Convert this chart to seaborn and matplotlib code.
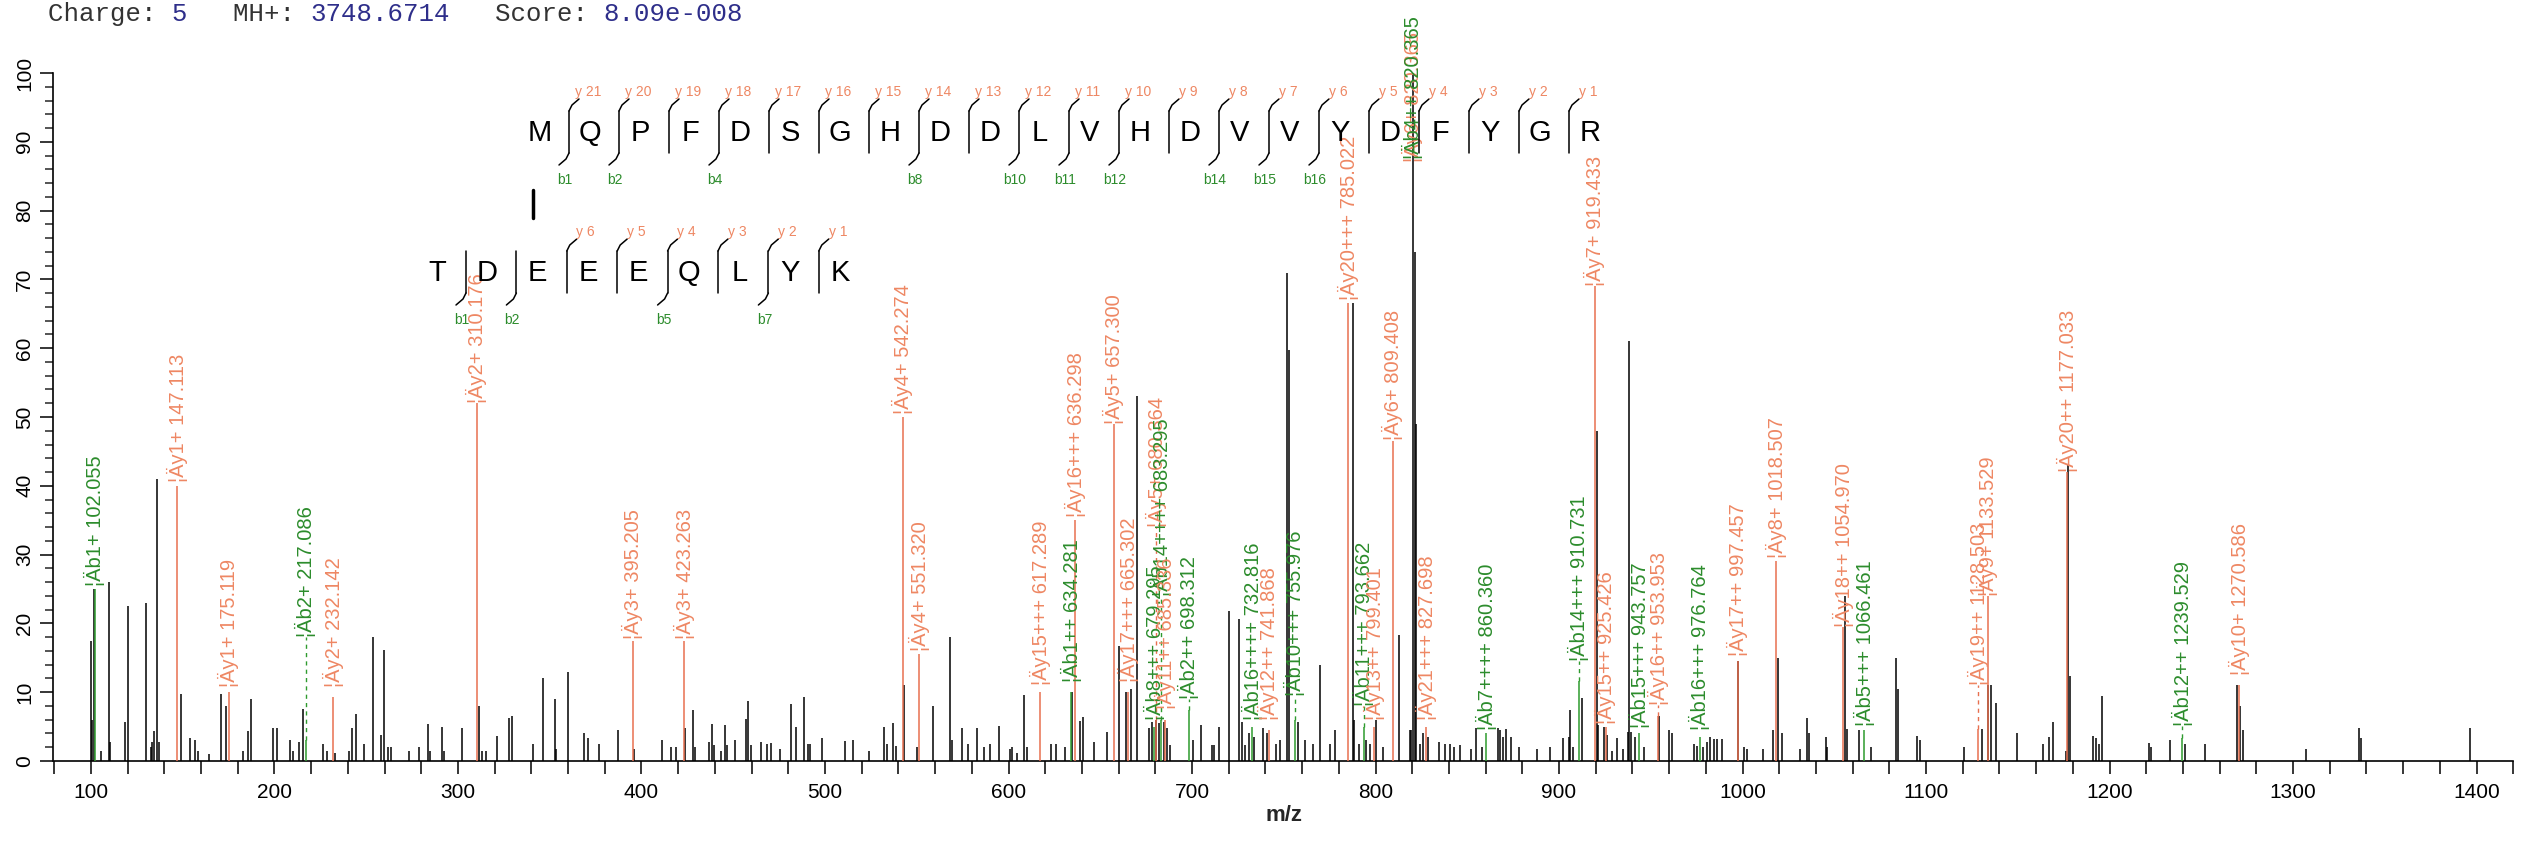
import matplotlib
matplotlib.use("Agg")
import matplotlib.pyplot as plt
import seaborn as sns
import numpy as np
import pandas as pd
from matplotlib.lines import Line2D

# ---------------- data ----------------
black_mz = [100.0, 100.8, 101.4, 105.5, 109.7, 110.5, 118.8, 120.2, 129.9, 132.7, 133.5, 134.6, 136.0, 136.8,
            149.0, 154.0, 156.8, 158.2, 164.5, 170.6, 173.4, 183.1, 185.3, 187.3, 199.2, 201.1, 208.6, 210.0,
            213.6, 215.8, 226.6, 228.8, 233.0, 240.7, 242.1, 244.6, 249.0, 253.7, 257.9, 259.8, 262.0, 263.4,
            273.1, 278.7, 283.7, 285.0, 291.1, 292.5, 302.2, 311.4, 313.3, 315.5, 321.0, 327.7, 329.4, 341.0,
            346.5, 352.6, 353.5, 359.8, 368.7, 370.6, 377.0, 387.3, 395.8, 411.0, 416.3, 418.6, 423.6, 428.3,
            429.1, 436.6, 438.5, 439.3, 443.5, 445.4, 446.8, 451.2, 456.8, 458.2, 459.6, 464.9, 468.4, 470.4,
            475.3, 481.4, 484.3, 488.6, 490.7, 492.0, 498.3, 511.0, 515.5, 524.2, 532.4, 534.0, 537.3, 538.8,
            543.0, 549.9, 558.6, 568.0, 569.0, 574.6, 578.0, 583.0, 586.9, 589.8, 594.8, 600.9, 602.0, 604.4,
            608.7, 610.2, 623.3, 625.7, 630.6, 634.6, 638.8, 640.8, 646.6, 653.9, 660.0, 664.0, 667.0, 670.0,
            676.5, 678.0, 680.5, 682.0, 684.5, 686.5, 688.0, 700.5, 705.0, 710.8, 712.0, 714.6, 720.0, 725.6,
            727.5, 729.0, 731.0, 734.0, 738.5, 741.0, 745.8, 748.0, 752.0, 753.0, 757.5, 761.8, 766.0, 769.5,
            775.0, 777.8, 787.5, 788.5, 791.0, 795.0, 796.8, 800.5, 804.0, 812.6, 818.7, 819.3, 820.4, 821.5,
            822.2, 824.5, 826.0, 828.8, 834.7, 837.6, 840.5, 843.0, 846.0, 852.0, 855.0, 858.0, 866.8, 868.0,
            869.5, 871.2, 873.6, 878.0, 888.0, 895.0, 902.0, 905.4, 906.1, 907.5, 912.3, 920.8, 921.5, 924.5,
            926.4, 928.9, 931.8, 934.7, 937.5, 938.3, 939.4, 941.2, 946.2, 954.5, 960.0, 961.7, 973.3, 975.0,
            978.7, 980.9, 982.3, 984.5, 986.0, 988.9, 997.8, 1001.0, 1002.2, 1011.2, 1016.6, 1019.1, 1021.3,
            1031.1, 1035.4, 1036.5, 1045.5, 1046.2, 1055.6, 1057.0, 1063.5, 1070.0, 1083.4, 1084.5, 1094.9,
            1096.8, 1120.6, 1130.3, 1133.9, 1135.4, 1138.3, 1149.5, 1164.0, 1167.1, 1169.3, 1176.2, 1177.5,
            1178.3, 1191.0, 1192.8, 1194.2, 1196.1, 1221.4, 1222.5, 1233.2, 1241.2, 1252.0, 1269.5, 1271.3,
            1273.0, 1307.2, 1336.0, 1337.2, 1396.4]
black_int = [17.5, 6.0, 25.0, 1.5, 26.0, 2.7, 5.7, 22.5, 23.0, 2.0, 2.7, 4.3, 41.0, 2.7,
             9.7, 3.3, 3.0, 1.5, 1.0, 9.8, 8.0, 1.5, 4.3, 9.0, 4.8, 4.8, 3.0, 1.5,
             2.8, 7.5, 2.5, 1.5, 1.2, 1.5, 4.8, 6.8, 2.5, 18.0, 3.8, 16.2, 2.0, 2.0,
             1.5, 2.0, 5.4, 1.5, 5.0, 1.5, 4.8, 8.0, 1.5, 1.5, 3.6, 6.3, 6.5, 2.5,
             12.0, 9.0, 1.8, 13.0, 4.0, 3.4, 2.4, 4.5, 1.8, 3.0, 2.0, 2.0, 4.8, 7.4,
             2.0, 2.7, 5.4, 2.3, 1.5, 5.2, 2.3, 3.0, 6.1, 8.7, 2.3, 2.8, 2.5, 2.6,
             1.7, 8.3, 5.0, 9.3, 2.5, 2.5, 3.3, 2.9, 3.0, 1.5, 5.0, 2.4, 5.5, 2.2,
             11.0, 2.0, 8.0, 18.0, 3.0, 4.8, 2.5, 4.8, 2.0, 2.5, 5.1, 1.8, 2.0, 1.2,
             9.6, 2.0, 2.5, 2.4, 2.0, 10.0, 5.8, 6.4, 2.8, 4.2, 16.7, 10.0, 10.5, 53.0,
             4.8, 5.7, 6.0, 5.5, 5.7, 4.8, 2.3, 3.0, 5.2, 2.3, 2.3, 5.0, 21.8, 20.7,
             5.7, 2.3, 4.0, 3.5, 4.8, 4.0, 2.5, 3.0, 71.0, 59.7, 5.7, 3.0, 2.4, 14.0,
             2.5, 4.5, 66.5, 6.0, 2.5, 3.0, 2.4, 6.0, 2.0, 18.3, 4.5, 4.5, 100.0, 74.0,
             49.0, 2.5, 4.0, 3.5, 2.7, 2.4, 2.5, 2.0, 2.3, 1.8, 4.8, 2.0, 4.8, 4.5,
             3.5, 4.7, 3.5, 2.0, 1.7, 2.0, 3.3, 3.5, 7.4, 2.0, 9.1, 48.0, 5.3, 5.0,
             3.8, 1.5, 3.4, 1.8, 4.2, 61.0, 4.2, 3.5, 2.0, 6.5, 4.5, 4.0, 2.5, 2.2,
             2.0, 2.8, 3.5, 3.2, 3.2, 3.2, 14.5, 2.0, 1.8, 1.8, 4.5, 15.0, 4.0,
             1.8, 6.2, 4.0, 3.5, 2.0, 24.0, 4.7, 4.5, 2.0, 15.0, 10.5, 3.6,
             3.0, 2.0, 4.7, 11.0, 11.0, 8.4, 4.0, 2.5, 3.5, 5.6, 1.5, 43.0,
             12.3, 3.6, 3.3, 2.5, 9.5, 2.6, 2.0, 3.0, 2.5, 2.4, 11.0, 8.0,
             4.5, 1.8, 4.8, 3.3, 4.8]

ion_mz = [102.055, 147.113, 175.119, 217.086, 232.142, 310.176, 395.205, 423.263, 542.274, 551.320,
          617.289, 634.281, 636.298, 657.300, 665.302, 679.295, 680.364, 683.295, 685.336, 698.312,
          732.816, 741.868, 755.976, 785.022, 793.662, 799.401, 809.408, 820.365, 820.365, 827.698, 860.360,
          910.731, 919.433, 925.426, 943.757, 953.953, 976.764, 997.457, 1018.507, 1054.970, 1066.461,
          1128.503, 1133.529, 1177.033, 1239.529, 1270.586]
ion_peak = [25.0, 40.0, 10.0, 3.0, 9.3, 52.0, 17.5, 17.5, 50.0, 15.5,
            10.0, 10.0, 35.0, 49.0, 10.0, 5.0, 6.0, 6.0, 6.0, 7.4,
            5.0, 4.5, 6.0, 66.5, 5.0, 5.0, 46.5, 0.0, 0.0, 5.0, 4.0,
            11.6, 69.0, 5.0, 4.0, 6.5, 3.5, 14.5, 29.0, 19.5, 4.5,
            4.7, 24.0, 42.0, 3.3, 11.0]
ion_base = [25.5, 40.5, 10.8, 18.0, 10.8, 52.0, 17.8, 17.8, 50.5, 16.0,
            11.0, 11.5, 35.5, 49.0, 11.5, 6.0, 34.0, 24.0, 7.5, 9.0,
            6.0, 6.0, 9.5, 67.0, 8.0, 6.0, 46.6, 87.0, 87.5, 6.0, 4.5,
            14.5, 69.0, 5.4, 4.8, 8.2, 4.5, 15.2, 29.5, 19.5, 5.1,
            11.0, 24.0, 42.0, 5.1, 12.5]
ion_label = ["¦Äb1+ 102.055", "¦Äy1+ 147.113", "¦Äy1+ 175.119", "¦Äb2+ 217.086", "¦Äy2+ 232.142",
             "¦Äy2+ 310.176", "¦Äy3+ 395.205", "¦Äy3+ 423.263", "¦Äy4+ 542.274", "¦Äy4+ 551.320",
             "¦Äy15+++ 617.289", "¦Äb1++ 634.281", "¦Äy16+++ 636.298", "¦Äy5+ 657.300", "¦Äy17+++ 665.302",
             "¦Äb8+++ 679.295", "¦Äy5+ 680.364", "¦Äb14++++ 683.295", "¦Äy11++ 685.336", "¦Äb2++ 698.312",
             "¦Äb16++++ 732.816", "¦Äy12++ 741.868", "¦Äb10+++ 755.976", "¦Äy20+++ 785.022", "¦Äb11+++ 793.662",
             "¦Äy13++ 799.401", "¦Äy6+ 809.408", "¦Äy6+ 820.365", "¦Äb4++ 820.365", "¦Äy21+++ 827.698",
             "¦Äb7++++ 860.360",
             "¦Äb14+++ 910.731", "¦Äy7+ 919.433", "¦Äy15++ 925.426", "¦Äb15+++ 943.757", "¦Äy16++ 953.953",
             "¦Äb16+++ 976.764", "¦Äy17++ 997.457", "¦Äy8+ 1018.507", "¦Äy18++ 1054.970", "¦Äb5+++ 1066.461",
             "¦Äy19++ 1128.503", "¦Äy9+ 1133.529", "¦Äy20++ 1177.033", "¦Äb12++ 1239.529", "¦Äy10+ 1270.586"]
ion_series = ["b", "y", "y", "b", "y", "y", "y", "y", "y", "y",
              "y", "b", "y", "y", "y", "b", "y", "b", "y", "b",
              "b", "y", "b", "y", "b", "y", "y", "y", "b", "y", "b",
              "b", "y", "y", "b", "y", "b", "y", "y", "y", "b",
              "y", "y", "y", "b", "y"]

seq1 = "MQPFDSGHDDLVHDVVYDFYGR"
seq2 = "TDEEEQLYK"
seq1_y_gaps = list(range(21))
seq1_b_gaps = [0, 1, 3, 7, 9, 10, 11, 13, 14, 15]
seq2_y_gaps = [2, 3, 4, 5, 6, 7]
seq2_b_gaps = [0, 1, 4, 6]

header_keys = ["Charge: ", "MH+: ", "Score: "]
header_vals = ["5", "3748.6714", "8.09e-008"]

x_ticks = list(range(80, 1421, 20))
y_ticks = list(range(0, 101, 10))
y_minor = list(range(0, 101, 2))

# ---------------- style ----------------
sns.set_theme(style="ticks")
plt.rcParams["font.family"] = ["Liberation Sans", "DejaVu Sans"]

Y_LINE, Y_TEXT = "#E8704F", "#EE8763"
B_LINE, B_TEXT = "#2E9B2E", "#2C8C2C"
NAVY = "#2E2E8A"

W, H = 2538, 846
fig = plt.figure(figsize=(W / 100, H / 100), dpi=100)
fig.patch.set_facecolor("white")


def fx(p):
    return p / W


def fy(p):
    return 1 - p / H


ax_l, ax_t, ax_b = 53, 73, 761
ax = fig.add_axes([fx(ax_l), fy(ax_b), 1 - fx(ax_l), (ax_b - ax_t) / H])
ax.set_facecolor("white")
ax.set_xlim(79.3, 1433.5)
ax.set_ylim(0, 100)

peaks = pd.DataFrame({"mz": black_mz, "intensity": black_int})
ions = pd.DataFrame({"mz": ion_mz, "peak": ion_peak, "base": ion_base,
                     "label": ion_label, "series": ion_series})

ax.vlines(peaks["mz"], 0, peaks["intensity"], color="black", lw=1.1, zorder=2)

for _, r in ions.iterrows():
    lc = Y_LINE if r.series == "y" else B_LINE
    tc = Y_TEXT if r.series == "y" else B_TEXT
    if r.peak > 0:
        ax.vlines(r.mz, 0, r.peak, color=lc, lw=1.1, zorder=3)
        if r.base > r.peak + 1.5:
            ax.vlines(r.mz, r.peak, r.base, color=lc, lw=1.0, linestyles=(0, (3, 3)), zorder=3)
    ax.text(r.mz, r.base, r.label, rotation=90, ha="center", va="bottom", color=tc,
            fontsize=14.5, clip_on=False, zorder=4)

# axes
for s in ["top", "right"]:
    ax.spines[s].set_visible(False)
ax.spines["left"].set_bounds(0, 100)
ax.spines["bottom"].set_bounds(80, 1420)
for s in ["left", "bottom"]:
    ax.spines[s].set_linewidth(1.2)
    ax.spines[s].set_color("black")

ax.set_xticks(x_ticks)
ax.set_xticklabels([str(v) if v % 100 == 0 else "" for v in x_ticks])
ax.set_yticks(y_ticks)
ax.set_yticks(y_minor, minor=True)
ax.set_yticklabels([str(v) for v in y_ticks])
ax.tick_params(axis="x", direction="out", length=9.5, width=1.1, pad=6, labelsize=15, colors="black")
ax.tick_params(axis="y", which="major", direction="out", length=9.5, width=1.1, pad=4, labelsize=15, colors="black")
ax.tick_params(axis="y", which="minor", direction="out", length=5.5, width=1.1)
for lab in ax.get_yticklabels():
    lab.set_rotation(90)
    lab.set_va("center")
ax.set_xlabel("")
ax.set_ylabel("")
ax.grid(False)
fig.text(fx(1284), fy(815), "m/z", fontsize=16, fontweight="bold", ha="center", va="center")

# header
hfs = 18.5
cw = 0.6 * hfs * 100 / 72
hx = 48
pos = 0
for k, v in zip(header_keys, header_vals):
    fig.text(fx(hx + pos * cw), fy(14), k, family=["Liberation Mono", "DejaVu Sans Mono"], fontsize=hfs,
             color="#333333", va="center", ha="left")
    pos += len(k)
    fig.text(fx(hx + pos * cw), fy(14), v, family=["Liberation Mono", "DejaVu Sans Mono"], fontsize=hfs,
             color=NAVY, va="center", ha="left")
    pos += len(v) + 3


# peptide sequences
def draw_row(seq, x0, step, yc, y_gaps, b_gaps, ylab_fn):
    for i, ch in enumerate(seq):
        fig.text(fx(x0 + step * i), fy(yc), ch, fontsize=21, ha="center", va="center", color="black")
    top, bot = yc - 22, yc + 20
    for g in range(len(seq) - 1):
        bx = x0 + step * g + 29
        xs, ys = [bx, bx], [bot, top]
        fig.add_artist(Line2D([fx(x) for x in xs], [fy(y) for y in ys], transform=fig.transFigure,
                              color="black", lw=1.1))
        if g in y_gaps:
            fig.add_artist(Line2D([fx(bx), fx(bx + 3), fx(bx + 10)], [fy(top), fy(top - 6), fy(top - 12)],
                                  transform=fig.transFigure, color="black", lw=1.1))
            fig.text(fx(bx + 19), fy(top - 19), ylab_fn(g), fontsize=10, ha="center", va="center",
                     color=Y_TEXT)
        if g in b_gaps:
            fig.add_artist(Line2D([fx(bx), fx(bx - 3), fx(bx - 10)], [fy(bot), fy(bot + 6), fy(bot + 12)],
                                  transform=fig.transFigure, color="black", lw=1.1))
            fig.text(fx(bx - 4), fy(bot + 27), "b" + str(g + 1), fontsize=10, ha="center", va="center",
                     color=B_TEXT)


draw_row(seq1, 540, 50, 133, seq1_y_gaps, seq1_b_gaps, lambda g: "y " + str(len(seq1) - 1 - g))
draw_row(seq2, 437, 50.4, 273, seq2_y_gaps, seq2_b_gaps, lambda g: "y " + str(len(seq2) - 1 - g))
# cross-link bar
fig.add_artist(Line2D([fx(533), fx(533)], [fy(190), fy(218)], transform=fig.transFigure,
                      color="black", lw=2.5))

fig.savefig("out.png", dpi=100, facecolor="white")
